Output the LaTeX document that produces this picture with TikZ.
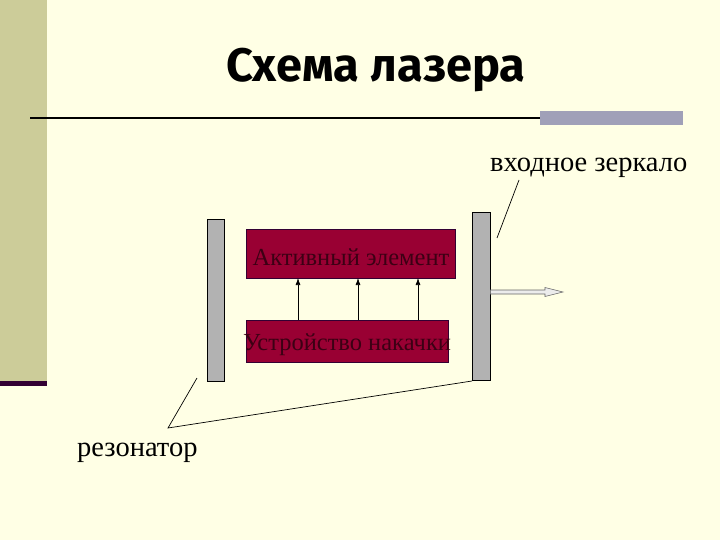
\documentclass[tikz,border=0pt]{standalone}
\usepackage{fontspec}
\setmainfont{Liberation Serif}
\newfontfamily\titlefont{Fira Sans}
\usetikzlibrary{arrows.meta}
\definecolor{bgc}{RGB}{255,255,229}
\definecolor{stripc}{RGB}{204,204,153}
\definecolor{darkbar}{RGB}{51,0,51}
\definecolor{boxc}{RGB}{153,0,51}
\definecolor{boxtext}{RGB}{60,0,20}
\definecolor{mirrorc}{RGB}{178,178,178}
\definecolor{grayline}{RGB}{160,160,184}
\tikzset{
  mirror/.style={draw=black, fill=mirrorc, line width=0.8pt},
  elembox/.style={draw=darkbar, fill=boxc, line width=0.8pt},
  elemtext/.style={text=boxtext, font=\fontsize{24.5}{28}\selectfont, inner sep=0},
  labeltext/.style={font=\fontsize{28.5}{32}\selectfont, inner sep=0},
  pump/.style={-{Latex[length=7pt,width=5pt]}, line width=0.7pt},
  callout/.style={line width=0.7pt},
}
\begin{document}
\begin{tikzpicture}[x=1pt,y=-1pt]
\fill[bgc] (0,0) rectangle (720,540);
\useasboundingbox (0,0) rectangle (720,540);
% left strip
\fill[stripc] (0,0) rectangle (47,381);
\fill[darkbar] (0,381) rectangle (47,386);
% title
\node[font=\titlefont\bfseries\fontsize{47}{52}\selectfont, inner sep=0] (title) at (376,70) {Схема лазера};
% rule
\draw[line width=1.5pt, black] (30,118) -- (540,118);
\fill[grayline] (540,111) rectangle (683,125);
% mirrors
\node[mirror, minimum width=17pt, minimum height=162pt, inner sep=0] (lm) at (215.5,300) {};
\node[mirror, minimum width=18pt, minimum height=168pt, inner sep=0] (rm) at (481,296) {};
% boxes
\node[elembox, minimum width=209pt, minimum height=49pt, inner sep=0] (act) at (350.5,253.5) {};
\node[elemtext] at (351,257) {Активный элемент};
\node[elembox, minimum width=202pt, minimum height=42pt, inner sep=0] (pumpbox) at (347,341) {};
\node[elemtext] at (347,345) {Устройство накачки};
% pump arrows
\foreach \xx in {298,358,418}{
  \draw[pump] (\xx,320) -- (\xx,278);
}
% output beam
\coordinate (beamend) at (563,292);
\draw[draw=gray!80!black, fill=white!85!gray, line width=0.6pt]
  (rm.east |- 0,290) -- (545,290) -- (545,287.5) -- (beamend) -- (545,296.5) -- (545,294) -- (rm.east |- 0,294) -- cycle;
% labels
\node[labeltext, anchor=base west] (inlab) at (490,172) {входное зеркало};
\node[labeltext, anchor=base west] (reslab) at (77,456) {резонатор};
\coordinate (c1) at (519,180);
\coordinate (c2) at (497,238);
\draw[callout] (c1) -- (c2);
\coordinate (r0) at (168,428);
\coordinate (r1) at (197,378);
\coordinate (r2) at (472,381);
\draw[callout] (r1) -- (r0) -- (r2);
\end{tikzpicture}
\end{document}
